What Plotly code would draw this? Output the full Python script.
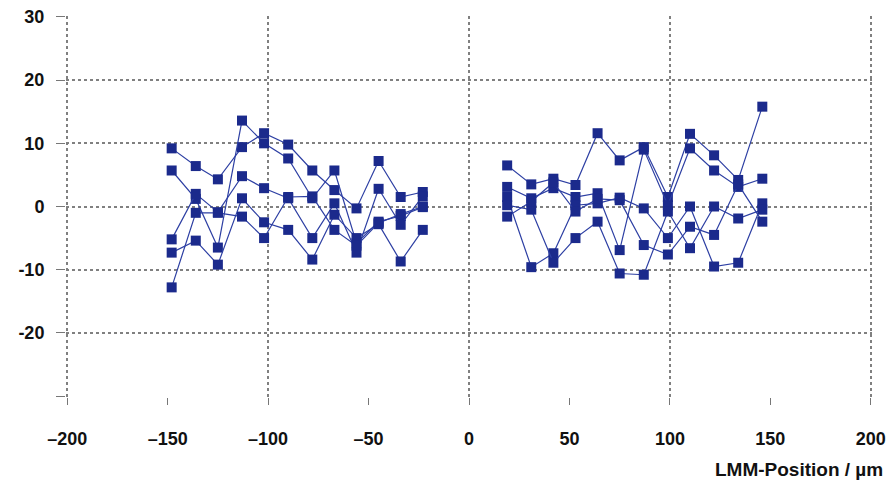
import plotly.graph_objects as go

x_left = [-148, -136, -125, -113, -102, -90, -78, -67, -56, -45, -34, -23]
x_right = [19, 31, 42, 53, 64, 75, 87, 99, 110, 122, 134, 146]

left_series = [
    [9.2, 6.4, 4.3, 9.4, 11.6, 9.8, 5.7, 2.6, -0.3, 7.2, 1.5, 2.3],
    [5.7, 1.2, -6.5, 13.6, 10.0, 7.6, 1.3, 5.7, -5.8, -2.4, -1.5, -0.1],
    [-5.2, 2.0, -0.9, 4.8, 2.9, 1.3, -5.0, 0.5, -7.3, 2.8, -2.9, 1.6],
    [-7.3, -5.4, -9.2, 1.3, -2.5, -3.7, -8.4, -1.3, -5.0, -2.8, -8.7, -3.7],
    [-12.8, -1.0, -1.0, -1.6, -5.0, 1.5, 1.6, -3.7, -6.2, -2.6, -1.2, 0.0],
]
right_series = [
    [6.5, 3.5, 4.4, 3.4, 11.6, 7.3, 9.4, 1.5, 11.5, 8.1, 4.2, 15.8],
    [3.1, 1.3, 2.9, 1.5, 2.1, -6.9, 9.0, 0.2, 9.2, 5.7, 3.1, 4.4],
    [1.5, -9.6, -7.4, 0.2, 0.5, 1.4, -0.3, -5.0, 0.0, -9.5, -8.9, 0.5],
    [0.2, -0.5, -8.9, -5.0, -2.4, -10.6, -10.8, -0.8, -6.6, 0.0, -1.9, -0.5],
    [-1.6, 0.8, 3.8, -0.8, 1.2, 1.0, -6.1, -7.6, -3.2, -4.5, 3.5, -2.4],
]

x_ticks = [-200, -150, -100, -50, 0, 50, 100, 150, 200]
x_ticktext = ["\u2013200", "\u2013150", "\u2013100", "\u201350", "0", "50", "100", "150", "200"]
y_ticks = [-30, -20, -10, 0, 10, 20, 30]
y_ticktext = ["", "-20", "-10", "0", "10", "20", "30"]
x_title = "LMM-Position / \u00b5m"

fig = go.Figure()
for ls, rs in zip(left_series, right_series):
    fig.add_trace(go.Scatter(
        x=x_left + [None] + x_right,
        y=ls + [None] + rs,
        mode="lines+markers",
        line=dict(color="#2d3fa3", width=1.2),
        marker=dict(symbol="square", size=10, color="#1b2a8c",
                    line=dict(width=0)),
        connectgaps=False,
        showlegend=False,
        hoverinfo="x+y",
    ))

# invisible trace on overlay axis for vertical grid
fig.add_trace(go.Scatter(x=[-200, 200], y=[0, 0], xaxis="x2", mode="markers",
                         marker=dict(opacity=0), showlegend=False, hoverinfo="skip"))

tickfont = dict(family="Liberation Sans", size=18, color="#111111", weight="bold")
XR = [-200.6, 200.6]
YR = [-30.15, 30.15]

fig.update_layout(
    width=886, height=487,
    margin=dict(l=58, r=22, t=8, b=98, autoexpand=False),
    paper_bgcolor="white", plot_bgcolor="white",
    font=dict(family="Liberation Sans"),
    xaxis=dict(range=XR, tickvals=x_ticks, ticktext=x_ticktext, automargin=False,
               showgrid=False, zeroline=False, ticks="outside", ticklen=7,
               tickcolor="#777777", tickwidth=1, ticklabelstandoff=18,
               ticklabeloverflow="allow",
               tickfont=tickfont, showline=False),
    xaxis2=dict(range=XR, overlaying="x", matches="x", automargin=False,
                tickvals=[-200, -100, 0, 100, 200], showticklabels=False,
                showgrid=True, gridcolor="#808080", griddash="dot", gridwidth=1.5,
                zeroline=False, ticks=""),
    yaxis=dict(range=YR, tickvals=y_ticks, ticktext=y_ticktext, automargin=False,
               showgrid=True, gridcolor="#808080", griddash="dot", gridwidth=1.5,
               zeroline=False, ticks="outside", ticklen=9, tickcolor="#777777",
               tickwidth=1, ticklabelstandoff=8, ticklabeloverflow="allow",
               tickfont=tickfont, showline=False),
    annotations=[dict(text="<b>" + x_title + "</b>", xref="paper", yref="paper",
                      x=1.016, y=-0.19, xanchor="right", yanchor="middle",
                      showarrow=False,
                      font=dict(family="Liberation Sans", size=19, color="#111111"))],
)

fig.write_html("out.html")
